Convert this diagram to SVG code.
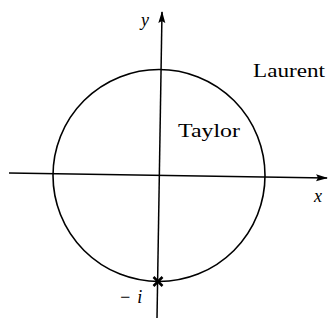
<svg xmlns="http://www.w3.org/2000/svg" width="328" height="323" viewBox="0 0 328 323">
<style>
.ax{stroke:#000;stroke-width:1.5;fill:none}
.t{font-family:"Liberation Serif","Times New Roman",serif;fill:#000}
</style>
<defs>
<marker id="ah" viewBox="0 0 12 8" refX="11" refY="4" markerWidth="12" markerHeight="8" orient="auto" markerUnits="userSpaceOnUse">
<path d="M0,0.5 L12,4 L0,7.5 L2,4 Z" fill="#000"/>
</marker>
</defs>
<rect width="328" height="323" fill="#fff"/>
<g id="connectors">
<line class="ax" x1="157" y1="318" x2="162" y2="12" marker-end="url(#ah)"/>
<line class="ax" x1="9" y1="173" x2="327" y2="178" marker-end="url(#ah)"/>
</g>
<g id="circle">
<circle cx="159" cy="175.5" r="106" fill="none" stroke="#000" stroke-width="1.6"/>
</g>
<g id="pole">
<path d="M153.5,277 L162.5,286 M162.5,277 L153.5,286" stroke="#000" stroke-width="2.5"/>
</g>
<g id="labels">
<text class="t" x="141" y="26" font-size="18" font-style="italic">y</text>
<text class="t" x="314" y="202" font-size="18" font-style="italic">x</text>
<text class="t" x="253" y="77" font-size="18" textLength="72" lengthAdjust="spacingAndGlyphs">Laurent</text>
<text class="t" x="178" y="137" font-size="19" textLength="62" lengthAdjust="spacingAndGlyphs">Taylor</text>
<text class="t" x="119" y="303" font-size="18" font-style="italic">−<tspan dx="6">i</tspan></text>
</g>
</svg>
